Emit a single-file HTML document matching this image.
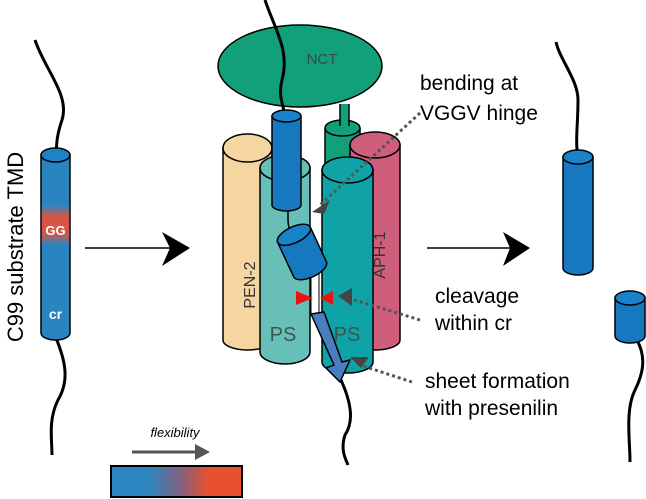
<!DOCTYPE html>
<html><head><meta charset="utf-8"><style>html,body{margin:0;padding:0;background:#fff}svg{display:block}</style></head>
<body>
<svg width="646" height="499" viewBox="0 0 646 499" xmlns="http://www.w3.org/2000/svg" font-family="Liberation Sans, sans-serif">
<defs>
<linearGradient id="band" x1="0" y1="0" x2="0" y2="1">
<stop offset="0" stop-color="#2b86c0"/><stop offset="0.3" stop-color="#d65545"/><stop offset="0.7" stop-color="#d65545"/><stop offset="1" stop-color="#2b86c0"/>
</linearGradient>
<linearGradient id="leg" x1="0" y1="0" x2="1" y2="0">
<stop offset="0" stop-color="#2a86c2"/><stop offset="0.3" stop-color="#2f84bd"/><stop offset="0.55" stop-color="#8a5f7a"/><stop offset="0.75" stop-color="#e8512d"/><stop offset="1" stop-color="#e8512d"/>
</linearGradient>
</defs>
<!-- left substrate -->
<path d="M35 40 C45 70,70 95,62 120 C55 140,57 150,56 156" fill="none" stroke="#000" stroke-width="3"/>
<path d="M56 338 C65 360,70 380,58 400 C48 420,52 440,52 455" fill="none" stroke="#000" stroke-width="3"/>
<path d="M41 155 L41 333 A14.5 7 0 0 0 70 333 L70 155 Z" fill="#2a84c0" stroke="#000" stroke-width="1.5"/>
<rect x="41.8" y="205" width="27.4" height="40" fill="url(#band)"/>
<ellipse cx="55.5" cy="155" rx="14.5" ry="7" fill="#1d82c6" stroke="#000" stroke-width="1.5"/>
<text x="55.5" y="235" font-size="13" font-weight="bold" fill="#fff" text-anchor="middle">GG</text>
<text x="55.5" y="319" font-size="14" font-weight="bold" fill="#fff" text-anchor="middle">cr</text>
<text transform="translate(23,247) rotate(-90)" font-size="22" text-anchor="middle" fill="#000">C99 substrate TMD</text>
<!-- arrow 1 -->
<line x1="85" y1="248" x2="172" y2="248" stroke="#000" stroke-width="1.5"/>
<path d="M190 248 L162 232 L170 248 L162 266 Z" fill="#000"/>
<!-- NCT -->
<ellipse cx="300" cy="66" rx="82" ry="41" fill="#12a07a" stroke="#000" stroke-width="1.5"/>
<text x="322" y="64" font-size="15" fill="#3a4a45" text-anchor="middle">NCT</text>
<!-- green small cylinder -->
<path d="M325 128 L325 200 L360 200 L360 128" fill="#12a07a" stroke="#000" stroke-width="1.5"/>
<ellipse cx="342.5" cy="128" rx="17.5" ry="8" fill="#12a07a" stroke="#000" stroke-width="1.5"/>
<rect x="340" y="104" width="9" height="24" fill="#12a07a"/>
<line x1="340" y1="104" x2="340" y2="126" stroke="#000" stroke-width="1.5"/><line x1="349" y1="104" x2="349" y2="126" stroke="#000" stroke-width="1.5"/>
<!-- APH-1 -->
<path d="M350 145 L350 340 A25 10 0 0 0 400 340 L400 145 Z" fill="#cf5e7c" stroke="#000" stroke-width="1.5"/>
<ellipse cx="375" cy="145" rx="25" ry="13" fill="#cf5e7c" stroke="#000" stroke-width="1.5"/>
<text transform="translate(385,255) rotate(-90)" font-size="16" fill="#333" text-anchor="middle">APH-1</text>
<!-- PEN-2 -->
<path d="M223 148 L223 340 A24.5 10 0 0 0 272 340 L272 148 Z" fill="#f5d5a0" stroke="#000" stroke-width="1.5"/>
<ellipse cx="247.5" cy="148" rx="24.5" ry="14" fill="#f5d5a0" stroke="#000" stroke-width="1.5"/>
<text transform="translate(255,285) rotate(-90)" font-size="16" fill="#333" text-anchor="middle">PEN-2</text>
<!-- PS left -->
<path d="M260 168 L260 352 A25 12 0 0 0 310 352 L310 168 Z" fill="#68bfb8" stroke="#000" stroke-width="1.5"/>
<ellipse cx="285" cy="168" rx="25" ry="13" fill="#68bfb8" stroke="#000" stroke-width="1.5"/>
<text x="283" y="341" font-size="20" fill="#3d5552" text-anchor="middle">PS</text>
<!-- PS right -->
<path d="M322 170 L322 362 A25.5 11 0 0 0 373 362 L373 170 Z" fill="#0fa2a6" stroke="#000" stroke-width="1.5"/>
<ellipse cx="347.5" cy="170" rx="25.5" ry="13" fill="#0fa2a6" stroke="#000" stroke-width="1.5"/>
<text x="347" y="341" font-size="20" fill="#3d5552" text-anchor="middle">PS</text>
<!-- substrate chain in complex -->
<path d="M265 0 C275 30,290 50,282 80 C278 95,283 105,285 115" fill="none" stroke="#000" stroke-width="3"/>
<path d="M287 205 C290 215,285 222,292 235" fill="none" stroke="#000" stroke-width="1.5"/>
<path d="M272 116 L272 205 A14.5 6 0 0 0 301 205 L301 116 Z" fill="#1679c0" stroke="#000" stroke-width="1.5"/>
<ellipse cx="286.5" cy="116" rx="14.5" ry="6" fill="#1883c8" stroke="#000" stroke-width="1.5"/>
<!-- white link -->
<rect x="311" y="265" width="8" height="50" fill="#fff" stroke="#000" stroke-width="1"/>
<!-- tilted cylinder -->
<g transform="translate(302,252) rotate(-25)">
<path d="M-18 -19 L-18 19 A18 8 0 0 0 18 19 L18 -19 Z" fill="#1679c0" stroke="#000" stroke-width="1.5"/>
<ellipse cx="0" cy="-19" rx="18" ry="8" fill="#1883c8" stroke="#000" stroke-width="1.5"/>
</g>
<!-- red triangles -->
<path d="M296 291 L313 298 L296 305 Z" fill="#ee1111"/>
<path d="M333 291 L320 298 L333 305 Z" fill="#ee1111"/>
<!-- blue arrow -->
<path d="M311 314 L324 312 L342 362 L350 360 L340 382 L326 368 L334 365 Z" fill="#4a7cc0" stroke="#000" stroke-width="1.5"/>
<path d="M341 380 C350 400,355 420,345 435 C340 450,346 460,348 465" fill="none" stroke="#000" stroke-width="3"/>
<!-- dotted arrows -->
<line x1="420" y1="113" x2="320" y2="205" stroke="#555" stroke-width="3" stroke-dasharray="3,3"/>
<path d="M312 212 L330 200 L324 214 Z" fill="#444"/>
<line x1="420" y1="320" x2="348" y2="298" stroke="#555" stroke-width="3" stroke-dasharray="3,3"/>
<path d="M338 296 L352 288 L352 306 Z" fill="#444"/>
<line x1="412" y1="382" x2="360" y2="365" stroke="#555" stroke-width="3" stroke-dasharray="3,3"/>
<path d="M350 357 L369 357 L361 368 Z" fill="#444"/>
<!-- labels -->
<g font-size="21" fill="#000">
<text x="420" y="90">bending at</text>
<text x="420" y="120">VGGV hinge</text>
<text x="435" y="303">cleavage</text>
<text x="435" y="330">within cr</text>
<text x="425" y="388">sheet formation</text>
<text x="425" y="415">with presenilin</text>
</g>
<!-- arrow 2 -->
<line x1="427" y1="248" x2="512" y2="248" stroke="#000" stroke-width="1.5"/>
<path d="M530 248 L503 232 L510 248 L503 266 Z" fill="#000"/>
<!-- right pieces -->
<path d="M556 42 C560 60,578 80,578 100 C578 125,575 140,578 158" fill="none" stroke="#000" stroke-width="3"/>
<path d="M563 157 L563 268 A15 7 0 0 0 593 268 L593 157 Z" fill="#1679c0" stroke="#000" stroke-width="1.5"/>
<ellipse cx="578" cy="157" rx="15" ry="7" fill="#1883c8" stroke="#000" stroke-width="1.5"/>
<path d="M637 340 C645 355,645 370,635 390 C625 410,630 440,630 462" fill="none" stroke="#000" stroke-width="3"/>
<path d="M615 298 L615 336 A15 7 0 0 0 645 336 L645 298 Z" fill="#1679c0" stroke="#000" stroke-width="1.5"/>
<ellipse cx="630" cy="298" rx="15" ry="7" fill="#1883c8" stroke="#000" stroke-width="1.5"/>
<!-- legend -->
<text x="175" y="437" font-size="13" font-style="italic" fill="#000" text-anchor="middle">flexibility</text>
<line x1="132" y1="452" x2="196" y2="452" stroke="#555" stroke-width="3"/>
<path d="M210 452 L195 444 L195 460 Z" fill="#555"/>
<rect x="111" y="466" width="131" height="31" fill="url(#leg)" stroke="#000" stroke-width="2"/>
</svg>
</body></html>
